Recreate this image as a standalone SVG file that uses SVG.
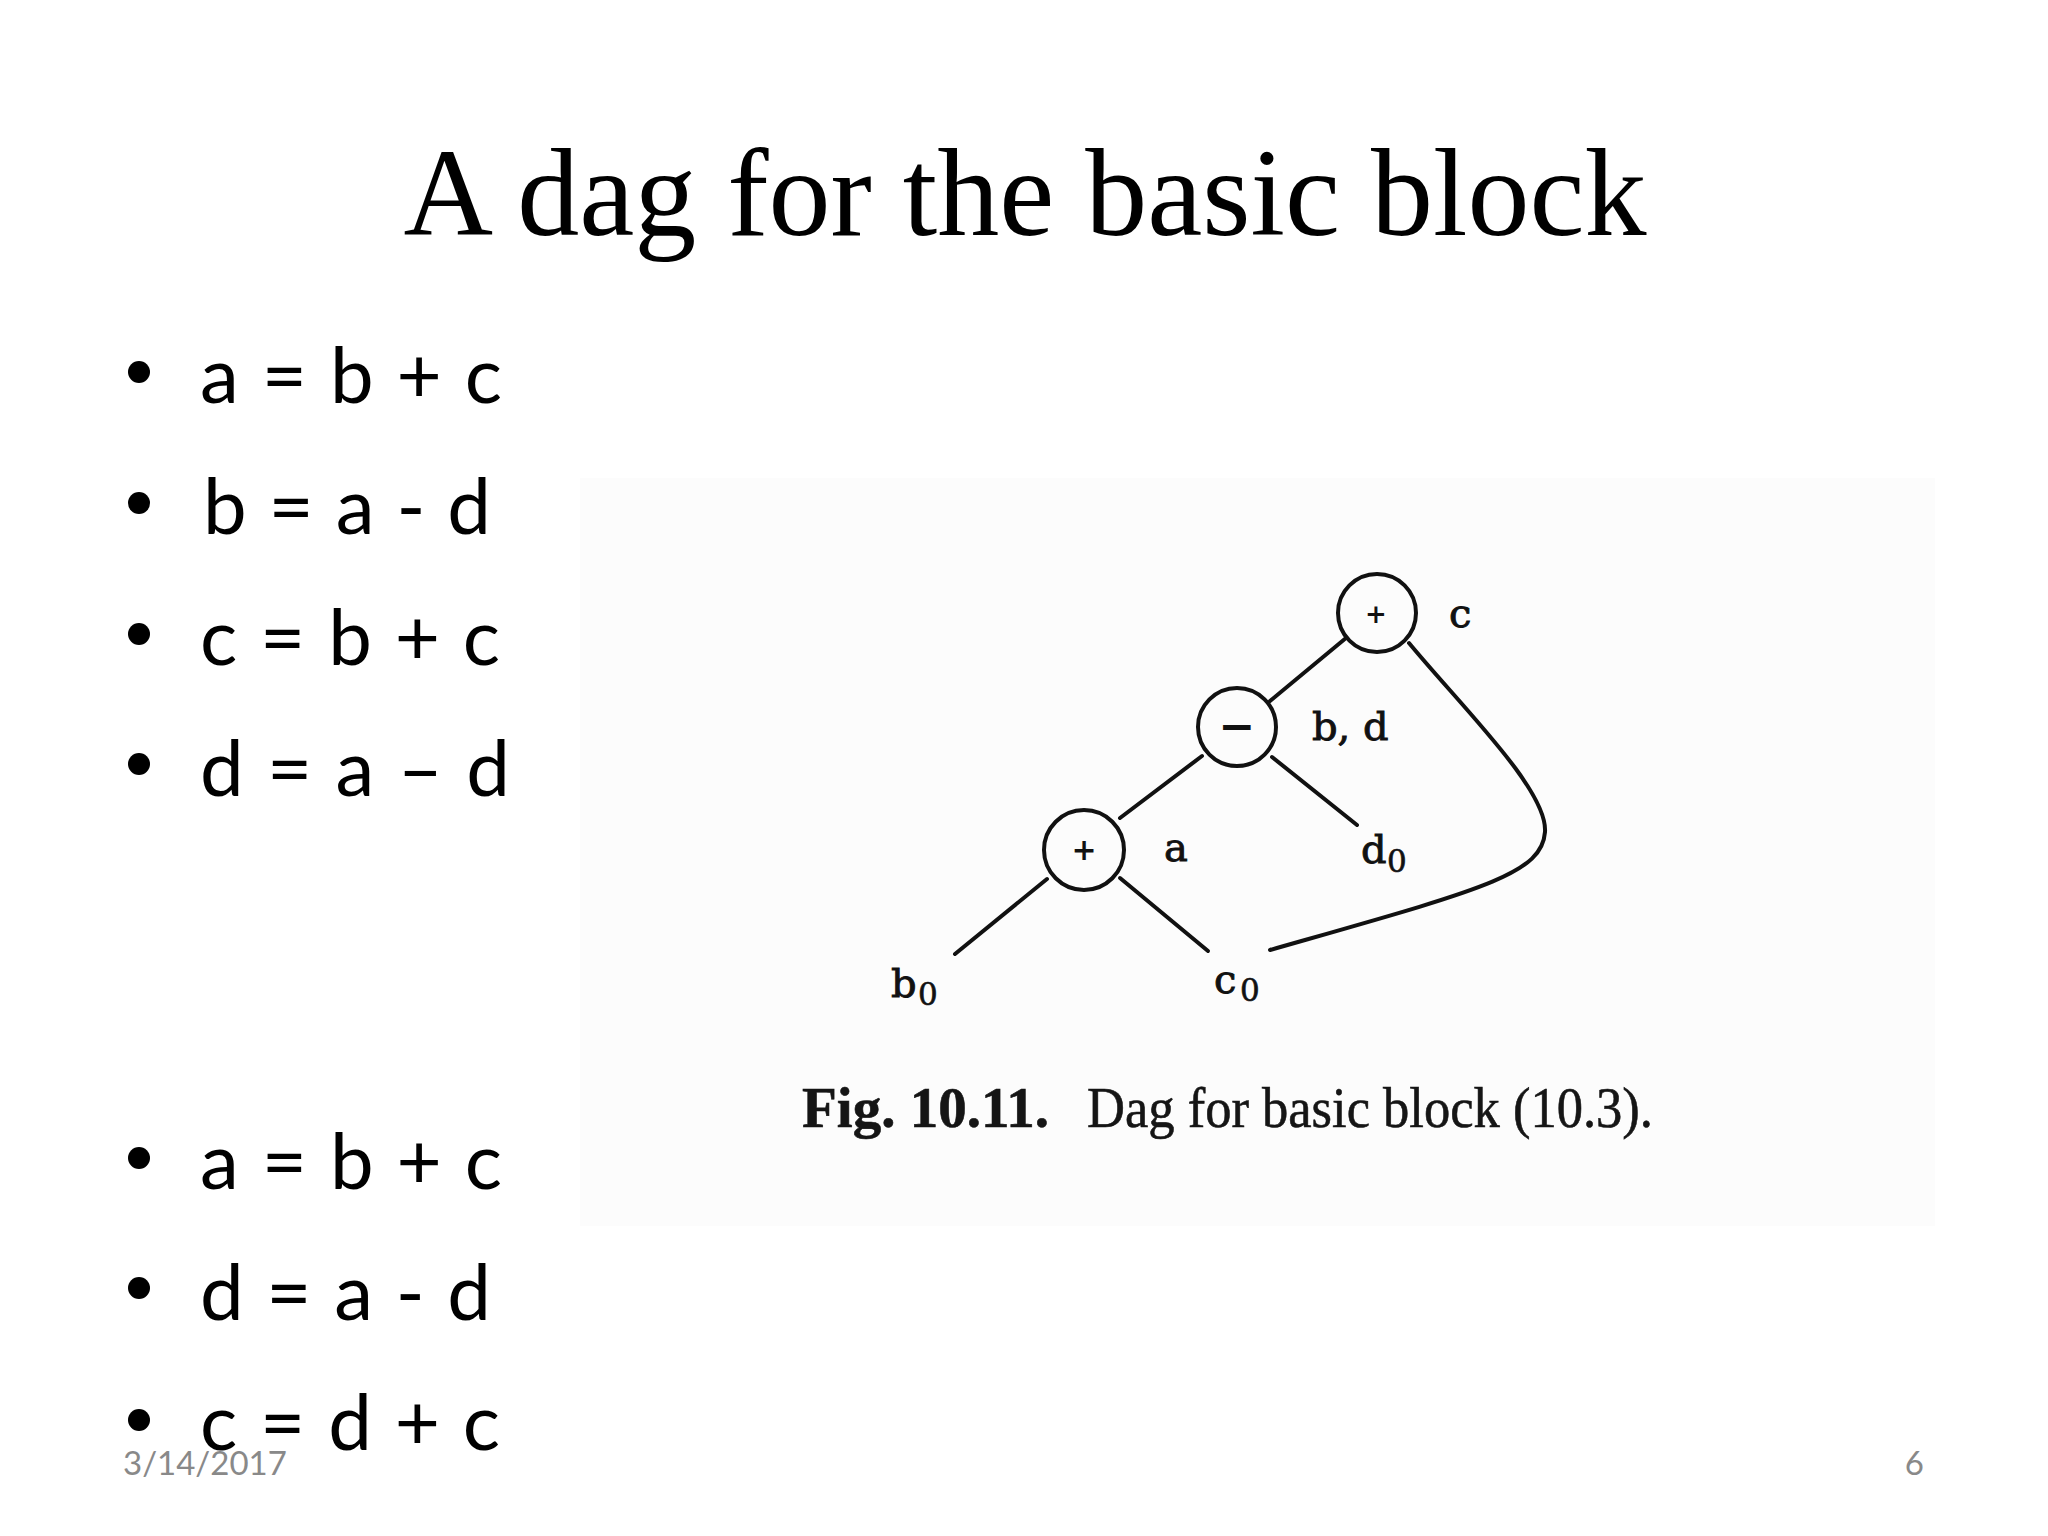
<svg xmlns="http://www.w3.org/2000/svg" width="2048" height="1536" viewBox="0 0 2048 1536">
<style>
.title{font-family:"Liberation Serif","Times New Roman",serif;font-size:124px;fill:#000}
.bul{font-family:Lato,"Open Sans","Liberation Sans",sans-serif;font-size:78px;fill:#000}
.foot{font-family:Lato,"Open Sans","Liberation Sans",sans-serif;font-size:33px;fill:#898989}
.node{fill:none;stroke:#111;stroke-width:4}
.op{font-family:"DejaVu Serif",serif;font-weight:bold;fill:#111;text-anchor:middle}
.lbl{font-family:"DejaVu Serif",serif;font-size:40px;fill:#111;stroke:#111;stroke-width:0.9}
.sub{font-family:"DejaVu Serif",serif;font-size:31px;fill:#111;stroke:#111;stroke-width:0.6}
.edge{fill:none;stroke:#111;stroke-width:4;stroke-linecap:round}
.cap{font-family:"Liberation Serif","Times New Roman",serif;font-size:57px;fill:#151515;stroke:#151515;stroke-width:0.6}
</style>
<rect width="2048" height="1536" fill="#fff"/>
<text class="title" x="1025" y="235" text-anchor="middle">A dag for the basic block</text>

<g id="bullets">
<circle cx="139" cy="372" r="11"/>
<circle cx="139" cy="503" r="11"/>
<circle cx="139" cy="634" r="11"/>
<circle cx="139" cy="764" r="11"/>
<circle cx="139" cy="1158" r="11"/>
<circle cx="139" cy="1288" r="11"/>
<circle cx="139" cy="1420" r="11"/>
<text class="bul" x="200" y="403" textLength="302" lengthAdjust="spacing">a = b + c</text>
<text class="bul" x="203" y="534" textLength="288" lengthAdjust="spacing">b = a - d</text>
<text class="bul" x="200" y="665" textLength="300" lengthAdjust="spacing">c = b + c</text>
<text class="bul" x="200" y="796" textLength="310" lengthAdjust="spacing">d = a – d</text>
<text class="bul" x="200" y="1189" textLength="302" lengthAdjust="spacing">a = b + c</text>
<text class="bul" x="200" y="1320" textLength="291" lengthAdjust="spacing">d = a - d</text>
<text class="bul" x="200" y="1450" textLength="300" lengthAdjust="spacing">c = d + c</text>
</g>

<rect x="580" y="478" width="1355" height="748" fill="#fcfcfc"/>

<g id="connectors">
<line class="edge" x1="1346" y1="638" x2="1270" y2="701"/>
<line class="edge" x1="1202" y1="756" x2="1120" y2="818"/>
<line class="edge" x1="1272" y1="757" x2="1357" y2="825"/>
<line class="edge" x1="1047" y1="879" x2="955" y2="954"/>
<line class="edge" x1="1120" y1="878" x2="1208" y2="951"/>
<path class="edge" d="M1409,643 C1460,705 1548,790 1545,832 C1542,875 1480,890 1270,950"/>
</g>

<g id="node-plus-c">
<circle class="node" cx="1377" cy="613" r="39"/>
<text class="op" x="1376" y="623" font-size="26">+</text>
<text class="lbl" x="1449" y="627">c</text>
</g>
<g id="node-minus-bd">
<circle class="node" cx="1237" cy="727" r="39"/>
<text class="op" x="1237" y="741" font-size="44">−</text>
<text class="lbl" x="1312" y="740">b, d</text>
</g>
<g id="node-plus-a">
<circle class="node" cx="1084" cy="850" r="40"/>
<text class="op" x="1084" y="860" font-size="30">+</text>
<text class="lbl" x="1164" y="861">a</text>
</g>
<g id="leaf-d0">
<text class="lbl" x="1361" y="863">d</text>
<text class="sub" x="1387" y="872">0</text>
</g>
<g id="leaf-b0">
<text class="lbl" x="891" y="997">b</text>
<text class="sub" x="918" y="1005">0</text>
</g>
<g id="leaf-c0">
<text class="lbl" x="1214" y="993">c</text>
<text class="sub" x="1240" y="1001">0</text>
</g>

<g id="caption">
<text class="cap" x="802" y="1127" font-weight="bold" textLength="247" lengthAdjust="spacingAndGlyphs">Fig. 10.11.</text>
<text class="cap" x="1087" y="1127" textLength="566" lengthAdjust="spacingAndGlyphs">Dag for basic block (10.3).</text>
</g>

<text class="foot" x="123" y="1475">3/14/2017</text>
<text class="foot" x="1924" y="1475" text-anchor="end">6</text>
</svg>
